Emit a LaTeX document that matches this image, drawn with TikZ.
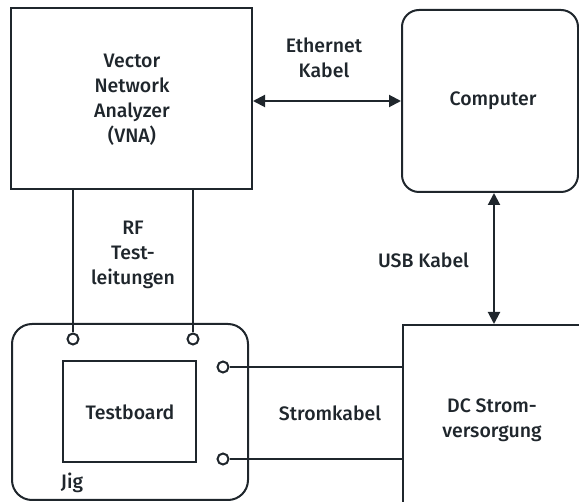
\documentclass[tikz,border=0pt]{standalone}
\usepackage{fontspec}
\setmainfont{Fira Sans}[UprightFont=* Medium]
\usetikzlibrary{arrows.meta,calc}
\definecolor{ink}{HTML}{1F262C}
\begin{document}
\begin{tikzpicture}[x=1pt,y=-1pt,
  every node/.style={text=ink, font=\fontsize{19.5}{25}\selectfont, align=center, inner sep=0pt},
  box/.style={draw=ink, line width=2pt},
  wire/.style={draw=ink, line width=2pt},
  arr/.style={draw=ink, line width=2pt, {Triangle[length=12pt,width=12pt]}-{Triangle[length=12pt,width=12pt]}},
  port/.style={circle, draw=ink, line width=2pt, fill=white, minimum size=11pt, inner sep=0pt},
  lbl/.style={}]
\path[use as bounding box] (0,0) rectangle (579,502);
\clip (0,0) rectangle (579,502);
% boxes
\node[box, minimum width=241pt, minimum height=181pt] (vna) at (131.5,98.5) {};
\node[box, rounded corners=17pt, minimum width=176pt, minimum height=182pt] (comp) at (490,101) {};
\node[box, anchor=north west, minimum width=220pt, minimum height=220pt] (dc) at (402,324) {};
\node[box, rounded corners=20pt, minimum width=236pt, minimum height=176pt] (jig) at (130,412) {};
\node[box, minimum width=133pt, minimum height=101pt] (tb) at (129.5,411.5) {};
% ports
\node[port] (p1) at (73,339) {};
\node[port] (p2) at (193,339) {};
\node[port] (p3) at (223,367) {};
\node[port] (p4) at (223,459) {};
% texts
\node (tvna) at (132,99.5) {Vector\\Network\\Analyzer\\(VNA)};
\node (tcomp) at (493,101) {Computer};
\node (tdc) at (492,420) {DC Strom-\\versorgung};
\node (ttb) at (130,412) {Testboard};
\node (tjig) at (72,483) {Jig};
\node (teth) at (324,58) {Ethernet\\Kabel};
\node (tusb) at (423.5,260) {USB Kabel};
\node (tstrom) at (330,413) {Stromkabel};
\node (trf) at (133,255) {RF\\Test-\\leitungen};
% connectors
\draw[wire] (p1) -- (p1 |- vna.south);
\draw[wire] (p2) -- (p2 |- vna.south);
\draw[wire] (p3) -- (p3 -| dc.west);
\draw[wire] (p4) -- (p4 -| dc.west);
\coordinate (ethl) at (vna.east |- comp.west);
\draw[arr] (ethl) -- (comp.west);
\coordinate (usbt) at ([xshift=4pt]comp.south);
\draw[arr] (usbt) -- (usbt |- dc.north);
\end{tikzpicture}
\end{document}
